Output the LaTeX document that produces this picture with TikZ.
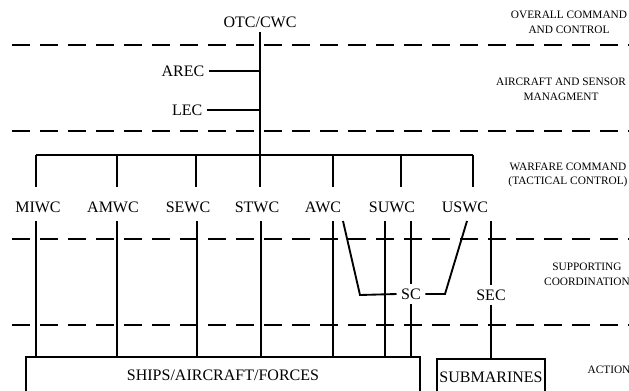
\documentclass[tikz,border=0pt]{standalone}
\usepackage{fontspec}
\setmainfont{Liberation Serif}
\begin{document}
\begin{tikzpicture}[x=0.75pt,y=-0.75pt,
    lbl/.style={font=\fontsize{12}{14}\selectfont},
    side/.style={font=\fontsize{8.5}{11}\selectfont,align=center,inner sep=0pt},
    line/.style={line width=1.4pt},
    sep/.style={line width=1pt,dash pattern=on 13.5pt off 7.5pt},
    box/.style={draw,line width=1.4pt,font=\fontsize{12}{14}\selectfont,minimum height=27pt,anchor=north,inner sep=1pt}]
    \useasboundingbox (0,0) rectangle (629,390);
    \clip (0,0) rectangle (629,390);
    % level separators
    \draw[sep] (12,45) -- (629,45);
    \draw[sep] (12,131) -- (629,131);
    \draw[sep] (12,239) -- (629,239);
    \draw[sep] (12,325) -- (629,325);
    % level names
    \node[side] (lvl1) at (569,22) {OVERALL COMMAND\\AND CONTROL};
    \node[side] (lvl2) at (561,89) {AIRCRAFT AND SENSOR\\MANAGMENT};
    \node[side] (lvl3) at (568,175) {WARFARE COMMAND\\(TACTICAL CONTROL)};
    \node[side] (lvl4) at (587,274) {SUPPORTING\\COORDINATION};
    \node[side] (lvl5) at (609,370) {ACTION};
    % command
    \node[lbl] (otc) at (260,22) {OTC/CWC};
    \node[lbl,anchor=east] (arec) at (209,71) {AREC};
    \node[lbl,anchor=east] (lec) at (207,110) {LEC};
    \coordinate (barL) at (36,155);
    \coordinate (barR) at (473,155);
    \draw[line] (otc.south) -- (otc |- barL);
    \draw[line] (arec) -- (arec -| otc);
    \draw[line] (lec) -- (lec -| otc);
    \draw[line] (barL) -- (barR);
    \foreach \x in {36,117,196,260,333,401,473}
        \draw[line] (\x,155) -- (\x,187);
    % warfare commanders
    \node[lbl] (miwc) at (38,207) {MIWC};
    \node[lbl] (amwc) at (113,207) {AMWC};
    \node[lbl] (sewc) at (188,207) {SEWC};
    \node[lbl] (stwc) at (257,207) {STWC};
    \node[lbl] (awc) at (323,207) {AWC};
    \node[lbl] (suwc) at (392,207) {SUWC};
    \node[lbl] (uswc) at (465,207) {USWC};
    % coordinators
    \node[lbl] (sc) at (411,294) {SC};
    \node[lbl] (sec) at (491,295) {SEC};
    % forces
    \node[box,minimum width=295.5pt] (ships) at (223,356) {SHIPS/AIRCRAFT/FORCES};
    \node[box,minimum width=81pt] (subs) at (491,358) {SUBMARINES};
    \foreach \x in {36,117,197,261,333,385}
        \draw[line] (\x,221) -- (\x,356);
    \draw[line] (sc |- 0,221) -- (sc.north);
    \draw[line] (sc.south) -- (sc |- ships.north);
    \draw[line] (343,221) -- (360,295) -- (sc.west);
    \draw[line] (467,221) -- (445,294) -- (sc.east);
    \draw[line] (sec |- 0,221) -- (sec.north);
    \draw[line] (sec.south) -- (subs.north);
\end{tikzpicture}
\end{document}
